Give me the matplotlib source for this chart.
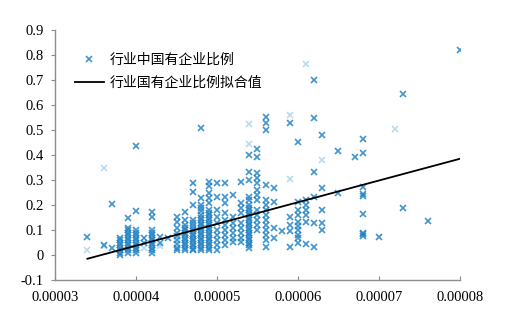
import matplotlib
matplotlib.use("Agg")
import matplotlib.pyplot as plt
import numpy as np

# industry columns: x in units of 1e-5, y = share of state-owned enterprises
col_x = [3.4, 3.6, 3.7, 3.8, 3.9, 4.0, 4.1, 4.2, 4.3, 4.4, 4.5, 4.6, 4.7, 4.8,
         4.9, 5.0, 5.1, 5.2, 5.3, 5.4, 5.5, 5.6, 5.7, 5.8, 5.9, 6.0, 6.1, 6.2,
         6.3, 6.5, 6.7, 6.8, 7.0, 7.3, 7.6, 8.0]
col_y = [
    [0.073],
    [0.04],
    [0.203, 0.027],
    [0.0, 0.01, 0.02, 0.03, 0.04, 0.05, 0.06, 0.07],
    [0.149, 0.11, 0.10, 0.09, 0.08, 0.07, 0.06, 0.05, 0.04, 0.03, 0.02, 0.01],
    [0.436, 0.177, 0.10, 0.09, 0.08, 0.07, 0.06, 0.05, 0.04, 0.03, 0.02, 0.01],
    [0.067, 0.047],
    [0.173, 0.153, 0.10, 0.09, 0.08, 0.07, 0.06, 0.05, 0.04, 0.03, 0.02, 0.01],
    [0.073, 0.05],
    [0.067],
    [0.153, 0.133, 0.107, 0.09, 0.075, 0.06, 0.045, 0.03, 0.02],
    [0.173, 0.14, 0.12, 0.11, 0.10, 0.09, 0.08, 0.07, 0.06, 0.05, 0.04, 0.03, 0.02],
    [0.287, 0.253, 0.20, 0.14, 0.127, 0.115, 0.105, 0.095, 0.085, 0.075, 0.065,
     0.055, 0.045, 0.035, 0.025, 0.02],
    [0.509, 0.227, 0.20, 0.187, 0.175, 0.16, 0.15, 0.14, 0.13, 0.12, 0.11, 0.10,
     0.09, 0.08, 0.07, 0.06, 0.05, 0.04, 0.03, 0.02],
    [0.293, 0.276, 0.247, 0.227, 0.207, 0.18, 0.17, 0.16, 0.15, 0.14, 0.13, 0.12,
     0.11, 0.10, 0.09, 0.08, 0.07, 0.06, 0.05, 0.04, 0.03, 0.02],
    [0.287, 0.233, 0.18, 0.153, 0.13, 0.10, 0.08, 0.06, 0.04, 0.02],
    [0.287, 0.233, 0.21, 0.167, 0.14, 0.12, 0.10, 0.08, 0.06, 0.04],
    [0.24, 0.153, 0.13, 0.11, 0.09, 0.07, 0.053],
    [0.293, 0.207, 0.19, 0.17, 0.13, 0.11, 0.09, 0.07, 0.053],
    [0.40, 0.333, 0.30, 0.233, 0.22, 0.20, 0.19, 0.18, 0.17, 0.16, 0.15, 0.14,
     0.13, 0.12, 0.11, 0.10, 0.09, 0.08, 0.07, 0.06, 0.05, 0.04, 0.027],
    [0.423, 0.393, 0.327, 0.31, 0.29, 0.26, 0.24, 0.22, 0.18, 0.16, 0.14, 0.12, 0.10],
    [0.553, 0.527, 0.50, 0.28, 0.22, 0.20, 0.18, 0.16, 0.14, 0.12, 0.10, 0.08,
     0.06, 0.033],
    [0.27, 0.213, 0.107, 0.067],
    [0.096],
    [0.527, 0.153, 0.12, 0.096, 0.033],
    [0.453, 0.213, 0.18, 0.16, 0.133, 0.116, 0.10, 0.08, 0.07, 0.047],
    [0.22, 0.20, 0.18, 0.16, 0.133, 0.044],
    [0.70, 0.547, 0.333, 0.233, 0.127, 0.033],
    [0.48, 0.267, 0.18, 0.127, 0.10],
    [0.417, 0.247],
    [0.391],
    [0.465, 0.41, 0.273, 0.243, 0.237, 0.164, 0.089, 0.083, 0.078],
    [0.073],
    [0.643, 0.187],
    [0.137],
    [0.82],
]

# faint markers
light_x = [3.4, 3.6, 3.6, 4.1, 4.3, 5.4, 5.4, 5.9, 5.9, 6.1, 6.3, 7.2]
light_y = [0.02, 0.347, 0.037, 0.027, 0.035, 0.524, 0.444, 0.56, 0.303, 0.764,
           0.38, 0.503]

# fitted line end points
fit_x = [3.4, 8.0]
fit_y = [-0.015, 0.385]

xs = np.concatenate([[x] * len(ys) for x, ys in zip(col_x, col_y)]) * 1e-5
ys = np.concatenate(col_y)

plt.rcParams["font.family"] = ["Liberation Serif", "DejaVu Serif"]

fig = plt.figure(figsize=(5.05, 3.22), dpi=100)
ax = fig.add_axes([55 / 505, 1 - 280 / 322, 405 / 505, 250 / 322])

blue = "#1f82c6"
ax.plot(np.array(light_x) * 1e-5, light_y, "x", color=blue, alpha=0.3,
        markersize=5, markeredgewidth=1.2)
ax.plot(xs, ys, "x", color=blue, alpha=0.85, markersize=5,
        markeredgewidth=1.2, label="行业中国有企业比例")
ax.plot(np.array(fit_x) * 1e-5, fit_y, color="black", linewidth=1.3,
        label="行业国有企业比例拟合值")

ax.set_xlim(0.00003, 0.00008)
ax.set_ylim(-0.1, 0.9)
ax.set_xticks([0.00003, 0.00004, 0.00005, 0.00006, 0.00007, 0.00008])
ax.set_xticklabels(["0.00003", "0.00004", "0.00005", "0.00006", "0.00007", "0.00008"])
ax.set_yticks(np.arange(-0.1, 0.91, 0.1))
ax.set_yticklabels(["-0.1", "0", "0.1", "0.2", "0.3", "0.4", "0.5", "0.6", "0.7", "0.8", "0.9"])

for s in ["top", "right"]:
    ax.spines[s].set_visible(False)
for s in ["left", "bottom"]:
    ax.spines[s].set_color("#8c8c8c")
    ax.spines[s].set_linewidth(1.0)
ax.tick_params(axis="y", direction="out", length=3, pad=5, color="#8c8c8c",
               labelsize=10.5)
ax.tick_params(axis="x", direction="in", length=3, pad=8, color="#8c8c8c",
               labelsize=10.5)

ax.legend(loc="upper left", bbox_to_anchor=(0.032, 0.935), frameon=False,
          borderpad=0, handlelength=2.1, handletextpad=0.4, labelspacing=0.6,
          prop={"family": ["Noto Sans CJK SC", "DejaVu Sans"], "size": 10})

fig.savefig("out.png", dpi=100)
